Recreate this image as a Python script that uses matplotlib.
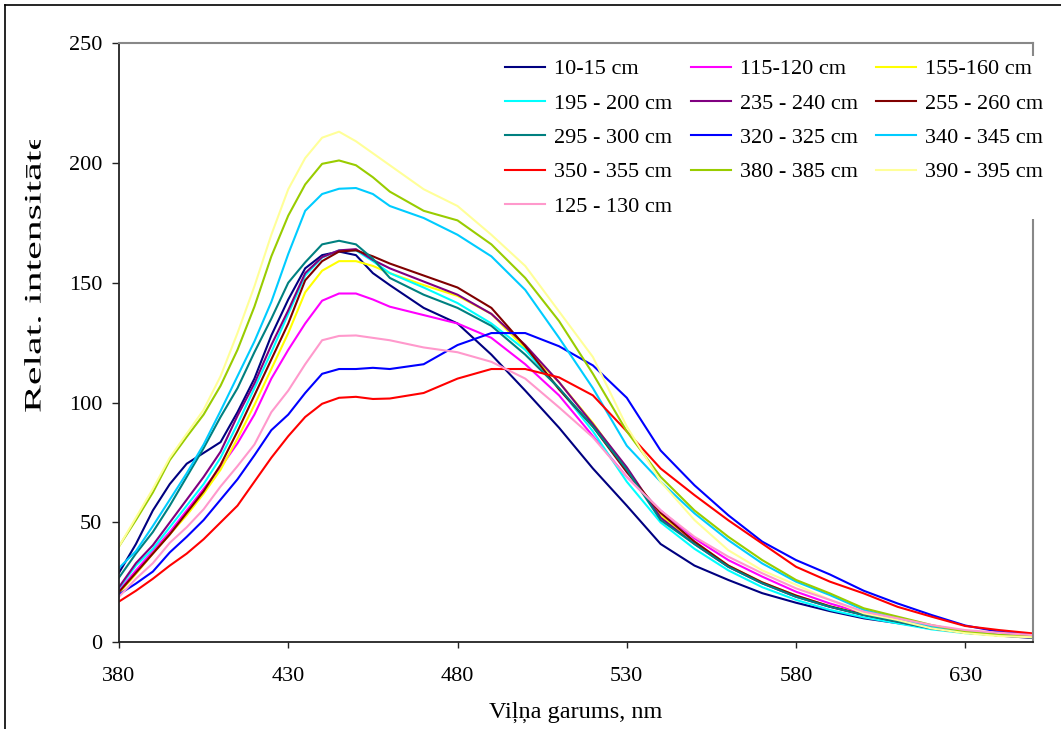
import matplotlib
matplotlib.use("Agg")
import matplotlib.pyplot as plt
from matplotlib.lines import Line2D
from matplotlib.transforms import Bbox, TransformedBbox, Affine2D
from matplotlib.patheffects import AbstractPathEffect

plt.rcParams['font.family'] = ['Liberation Serif', 'DejaVu Serif']

# --- DATA ---
wavelength = [380, 385, 390, 395, 400, 405, 410, 415, 420, 425, 430, 435, 440, 445,
              450, 455, 460, 470, 480, 490, 500, 510, 520, 530, 540, 550, 560, 570,
              580, 590, 600, 610, 620, 630, 640, 650]

s_10_15 = [29, 41, 55, 66, 74.5, 79, 83.5, 96, 110, 128, 143, 156, 161.5, 163,
           161.5, 154, 149, 139.5, 133, 120, 105, 89.5, 72.5, 57, 41, 32, 26, 20.5,
           16.5, 13, 10, 8, 6, 4.5, 2.8, 1.8]
s_115_120 = [21.5, 30, 38, 46, 55, 64, 73, 83, 95, 110, 122, 133, 142.5, 145.5,
             145.5, 143, 140, 136.5, 133, 127, 116, 103, 86, 69, 55, 43.3, 34.3, 27.4,
             21.1, 16.2, 12.1, 9.3, 6.5, 4.4, 3, 2.4]
s_155_160 = [20.5, 28.5, 37, 45, 53, 62, 72, 85, 99, 114, 129, 146, 155, 159,
             159, 157, 154, 149, 144.5, 137, 122.5, 108.5, 91.5, 72, 53, 42, 32, 25,
             19.5, 15, 11.5, 8.6, 5.8, 4, 2.9, 2.1]
s_195_200 = [22.6, 32, 39, 48, 57, 66, 77, 91, 106, 121, 137, 153, 160.5, 163.5,
             163.5, 159, 154, 148, 141.5, 133, 122, 106, 88, 67, 50, 39, 30, 23,
             17.7, 13.5, 10.4, 7.9, 5.4, 3.8, 2.9, 2.1]
s_235_240 = [23, 33, 40.5, 50, 59.5, 69, 79.5, 94.5, 108, 124, 138.5, 154, 160.7, 163.5,
             164, 159.5, 156, 150.5, 145, 137, 124, 108.5, 91, 73, 52, 41, 31.5, 24.6,
             19, 14.8, 11.4, 8.6, 5.8, 4, 2.9, 2.1]
s_255_260 = [21, 29, 37, 45, 54, 63, 74, 88, 103, 118, 133, 151, 159, 163,
             163.5, 161, 158, 153, 148, 139.5, 123.5, 105.5, 90, 71, 54, 42, 32, 25,
             19.5, 15, 11.5, 8.8, 6, 4.2, 3, 2.2]
s_295_300 = [27, 37, 46, 57, 69, 81, 94, 106, 121, 135, 150, 158.5, 166, 167.5,
             166, 160, 152, 145, 139.5, 132, 120, 106, 90, 72, 51, 41, 31.5, 24.6,
             19, 14.8, 11.4, 8.6, 5.8, 4, 2.9, 2.1]
s_320_325 = [20, 24.5, 29.5, 37.5, 44, 51, 59.5, 68, 78, 88.5, 95, 104, 112, 114,
             114, 114.5, 114, 116, 124, 129, 129, 123.5, 115.5, 102, 80, 65.5, 53, 42,
             34.3, 28.3, 21.5, 16.2, 11.4, 7, 4.4, 3.4]
s_340_345 = [31, 38, 48.5, 59.5, 70.5, 82.5, 96.5, 111, 125.5, 142, 162, 180, 187, 189.2,
             189.5, 187, 182, 177, 170, 161, 147, 127, 106, 82, 67, 53.8, 42.6, 32.9,
             25.3, 19.7, 13.5, 10, 6.5, 4.4, 3, 2.4]
s_350_355 = [17, 21.5, 26.5, 32, 37, 43, 50, 57, 67, 77, 86, 94, 99.5, 102,
             102.4, 101.5, 101.7, 104, 110, 114, 114, 110.5, 103, 88, 72.5, 61.4, 50.9, 41.2,
             31.5, 25.3, 20.4, 14.8, 10.7, 6.8, 5.1, 3.7]
s_380_385 = [40, 51, 62.5, 76, 85.7, 95, 107, 122, 140, 161, 178, 191, 199.6, 201,
             199, 194, 188, 180, 176, 166, 152, 134, 112, 88, 69, 55, 44, 34.3,
             26, 20.4, 14.2, 10.7, 7.2, 4.4, 3.1, 2.4]
s_390_395 = [40, 52, 64, 77, 87, 97, 111, 129, 148.5, 170, 189, 202, 210.5, 213,
             209, 204, 199, 189, 182, 170, 157, 138, 119, 90, 67, 51, 38.4, 30,
             24, 17.7, 12.1, 9.3, 5.8, 3.8, 2.6, 2.1]
s_125_130 = [19, 26.5, 33, 41.5, 48, 55.5, 65, 73.5, 82.5, 96, 105, 116, 126, 127.8,
             128, 127, 126, 123, 121, 117, 110, 98, 85.5, 69, 55, 44, 35.7, 28.8,
             22.5, 17.7, 12.8, 10, 7.2, 5.1, 4, 3]

labels = ['10-15 cm', '115-120 cm', '155-160 cm', '195 - 200 cm', '235 - 240 cm',
          '255 - 260 cm', '295 - 300 cm', '320 - 325 cm', '340 - 345 cm',
          '350 - 355 cm', '380 - 385 cm', '390 - 395 cm', '125 - 130 cm']
series = [s_10_15, s_115_120, s_155_160, s_195_200, s_235_240, s_255_260, s_295_300,
          s_320_325, s_340_345, s_350_355, s_380_385, s_390_395, s_125_130]
colors = ['#000080', '#FF00FF', '#FFFF00', '#00FFFF', '#800080', '#800000', '#008080',
          '#0000FF', '#00CCFF', '#FF0000', '#99CC00', '#FFFF99', '#FF99CC']


class Stretch(AbstractPathEffect):
    # stretches text along its baseline (the reference y label is drawn elongated)
    def __init__(self, k):
        super().__init__()
        self.k = k

    def draw_path(self, renderer, gc, tpath, affine, rgbFace=None):
        renderer.draw_path(gc, tpath, Affine2D().scale(self.k, 1) + affine, rgbFace)


# --- FIGURE ---
W, H = 1061, 729
fig = plt.figure(figsize=(W / 100, H / 100), dpi=100)
ax = fig.add_axes([119 / W, 1 - 642.3 / H, (1033 - 119) / W, (642.3 - 43) / H])

handles = []
for vals, lab, col in zip(series, labels, colors):
    h, = ax.plot(wavelength, vals, color=col, lw=1.5, label=lab)
    handles.append(h)

ax.set_xlim(380, 650)
ax.set_ylim(0, 250)
ax.set_xticks(range(380, 631, 50))
ax.set_yticks(range(0, 251, 50))

for side in ['left', 'bottom']:
    ax.spines[side].set_color('#222222')
    ax.spines[side].set_linewidth(1.3)
for side in ['top', 'right']:
    ax.spines[side].set_color('#888888')
    ax.spines[side].set_linewidth(1.5)

ax.tick_params(axis='x', direction='out', length=4.5, width=1, color='#222222',
               labelsize=16, pad=13)
ax.tick_params(axis='y', direction='out', length=5, width=1, color='#222222',
               labelsize=16, pad=7)

ax.set_xlabel('Viļņa garums, nm', fontsize=17.5, labelpad=12)

# y label, elongated and clipped at the top like in the reference
ylab = fig.text(35 / W, 1 - 413 / H, 'Relat. intensitāte', rotation=90,
                ha='center', va='bottom', fontsize=17)
ylab.set_path_effects([Stretch(1.77)])
ylab.set_clip_box(TransformedBbox(Bbox([[0, 0], [1, 1 - 140 / H]]), fig.transFigure))
ylab.set_clip_on(True)

# legend in row order (3 columns)
order = [0, 3, 6, 9, 12, 1, 4, 7, 10, 2, 5, 8, 11]
leg = ax.legend([handles[i] for i in order], [labels[i] for i in order],
                ncol=3, loc='upper left', bbox_to_anchor=(491 / W, 1 - 45 / H),
                bbox_transform=fig.transFigure, fontsize=16, frameon=True,
                facecolor='white', edgecolor='none', framealpha=1, fancybox=False,
                handlelength=1.8, handletextpad=0.4, columnspacing=0.85,
                labelspacing=0.62, borderpad=0.12)

# outer frame
fig.add_artist(Line2D([5 / W, 5 / W], [0, 1 - 5 / H], transform=fig.transFigure,
                      color='black', lw=1.2))
fig.add_artist(Line2D([5 / W, 1], [1 - 5 / H, 1 - 5 / H], transform=fig.transFigure,
                      color='black', lw=1.2))

fig.savefig('out.png', dpi=100)
